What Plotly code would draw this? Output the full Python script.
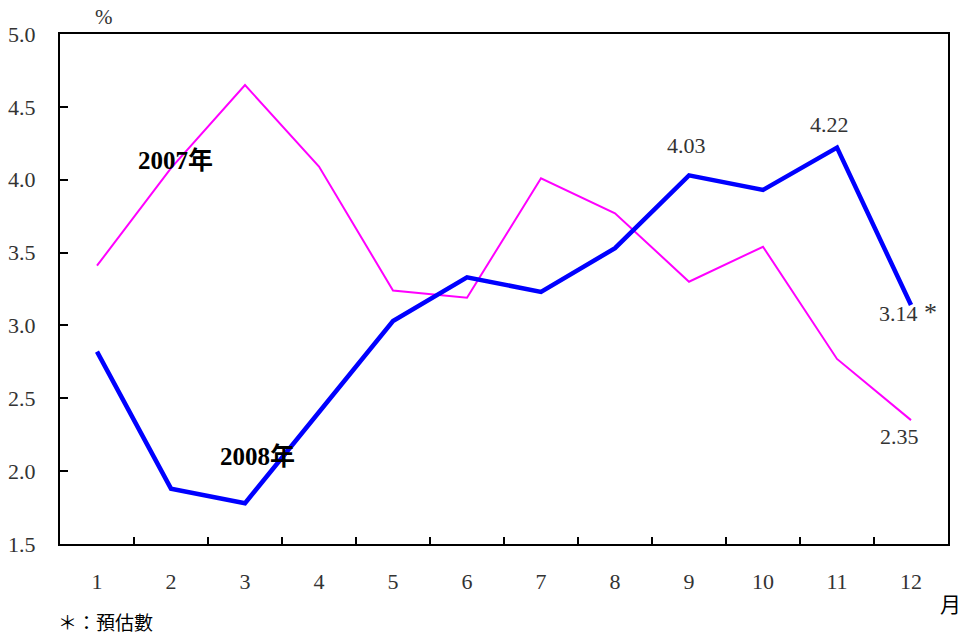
import plotly.graph_objects as go

# Monthly rate (%) by month, two years
months = ["1", "2", "3", "4", "5", "6", "7", "8", "9", "10", "11", "12"]
rate_2007 = [3.41, 4.08, 4.65, 4.09, 3.24, 3.19, 4.01, 3.77, 3.30, 3.54, 2.77, 2.35]
rate_2008 = [2.82, 1.88, 1.78, 2.40, 3.03, 3.33, 3.23, 3.53, 4.03, 3.93, 4.22, 3.14]

y_ticks = [1.5, 2.0, 2.5, 3.0, 3.5, 4.0, 4.5, 5.0]

SERIF = "Liberation Serif, Times New Roman, Noto Sans CJK TC, serif"
CJK = "Noto Sans CJK TC, Noto Sans CJK SC, sans-serif"
TXT = "#333333"

fig = go.Figure()
fig.add_trace(go.Scatter(
    x=months, y=rate_2007, mode="lines",
    line=dict(color="#FF00FF", width=2), name="2007年",
))
fig.add_trace(go.Scatter(
    x=months, y=rate_2008, mode="lines",
    line=dict(color="#0000FF", width=4.5), name="2008年",
))

ann = []
# value labels on selected points (category axis: x is the category index)
def vlabel(series, idx, dx, dy, text=None):
    ann.append(dict(
        x=idx, y=series[idx], xref="x", yref="y",
        text=text if text is not None else f"{series[idx]:.2f}",
        showarrow=False, xshift=dx, yshift=dy,
        font=dict(family=SERIF, size=22, color=TXT),
    ))

vlabel(rate_2008, 8, -3, 30)
vlabel(rate_2008, 10, -8, 23)
vlabel(rate_2008, 11, -13, -8)
ann.append(dict(
    x=11, y=rate_2008[11], xref="x", yref="y", text="*",
    showarrow=False, xshift=19, yshift=-7,
    font=dict(family=SERIF, size=26, color=TXT),
))
vlabel(rate_2007, 11, -12, -16)

# series names
ann.append(dict(x=1, y=4.13, xref="x", yref="y", text="2007年",
                showarrow=False, xshift=4,
                font=dict(family=SERIF, size=25, color="#000000", weight="bold")))
ann.append(dict(x=2, y=2.10, xref="x", yref="y", text="2008年",
                showarrow=False, xshift=12,
                font=dict(family=SERIF, size=25, color="#000000", weight="bold")))

# unit labels and footnote (pixel positions, converted below)
ann.append(dict(x=104, y=17, xref="paper", yref="paper", text="%", showarrow=False,
                font=dict(family=SERIF, size=21, color=TXT)))
ann.append(dict(x=951, y=603, xref="paper", yref="paper", text="月", showarrow=False,
                font=dict(family=CJK, size=21, color="#000000")))
ann.append(dict(x=56, y=621, xref="paper", yref="paper", text="＊：預估數",
                xanchor="left", showarrow=False,
                font=dict(family=CJK, size=19, color="#000000")))

W, H = 962, 636
ML, MR, MT, MB = 60, 14, 34, 92
pw, ph = W - ML - MR, H - MT - MB
for a in ann:
    if a["xref"] == "paper":
        a["x"] = (a["x"] - ML) / pw
        a["y"] = 1 - (a["y"] - MT) / ph
        a["yanchor"] = "middle"
        a.setdefault("xanchor", "center")

fig.update_layout(
    width=W, height=H,
    margin=dict(l=ML, r=MR, t=MT, b=MB),
    paper_bgcolor="white", plot_bgcolor="white",
    showlegend=False,
    annotations=ann,
    xaxis=dict(
        type="category", categoryorder="array", categoryarray=months,
        range=[-0.5, 11.5], tickson="boundaries",
        ticks="inside", ticklen=7, tickwidth=1.5, tickcolor="#000000",
        showgrid=False, zeroline=False, automargin=False,
        showline=True, linecolor="#000000", linewidth=2, mirror=True,
        tickfont=dict(family=SERIF, size=22, color=TXT),
        ticklabelstandoff=17,
    ),
    yaxis=dict(
        range=[1.5, 5.0], tickvals=y_ticks, tickformat=".1f",
        ticks="inside", ticklen=8, tickwidth=1.5, tickcolor="#000000",
        showgrid=False, zeroline=False, automargin=False,
        showline=True, linecolor="#000000", linewidth=2, mirror=True,
        tickfont=dict(family=SERIF, size=22, color=TXT),
        ticklabelstandoff=18,
    ),
)

fig.write_html("out.html")
